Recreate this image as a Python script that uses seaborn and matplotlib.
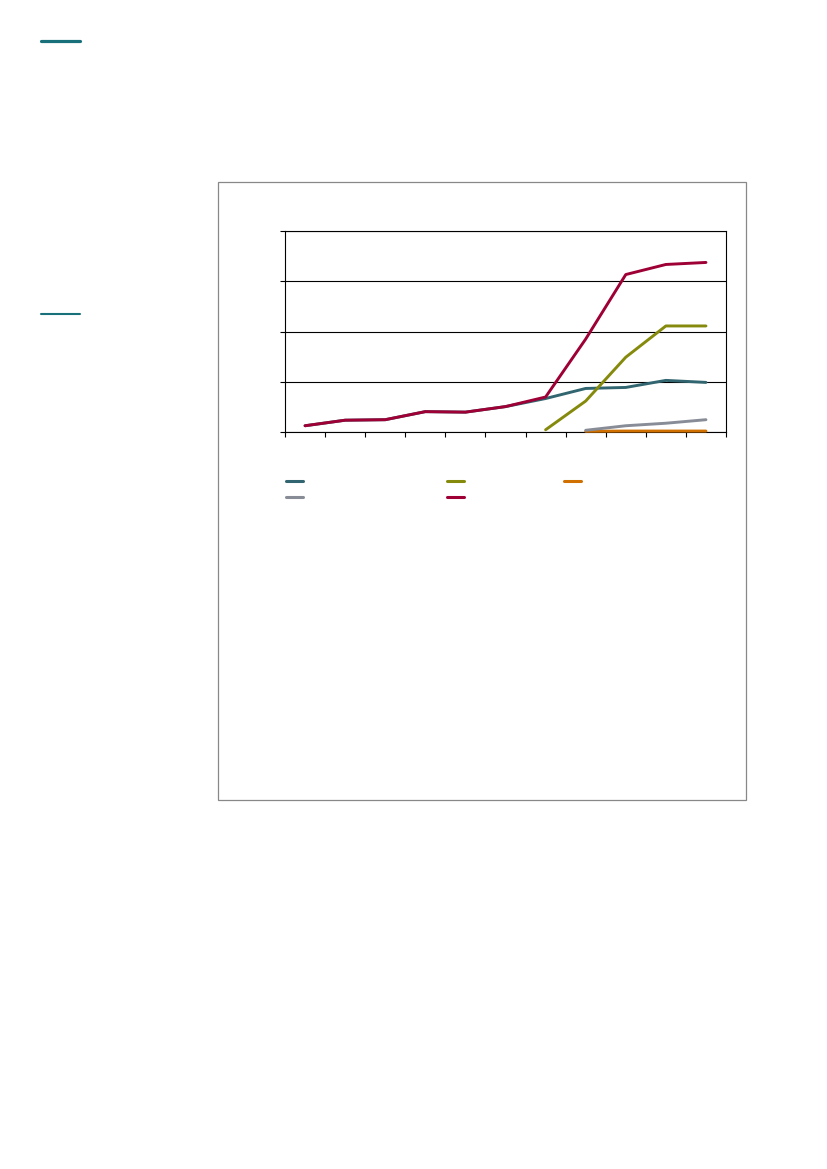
import matplotlib
matplotlib.use("Agg")
import matplotlib.pyplot as plt
import seaborn as sns
import pandas as pd
from matplotlib.lines import Line2D
from matplotlib.patches import Rectangle

# series values per period (11 periods); None = no value for that period
periods = list(range(11))
series_a = [0.13, 0.24, 0.25, 0.41, 0.40, 0.51, 0.67, 0.87, 0.89, 1.03, 0.99]   # teal
series_b = [None, None, None, None, None, None, 0.05, 0.62, 1.49, 2.11, 2.11]   # olive
series_c = [None, None, None, None, None, None, None, 0.02, 0.025, 0.025, 0.025]  # orange
series_d = [None, None, None, None, None, None, None, 0.04, 0.13, 0.18, 0.25]   # grey
series_e = [0.13, 0.24, 0.25, 0.41, 0.40, 0.51, 0.70, 1.85, 3.13, 3.33, 3.37]   # red (total)

names = ["a", "b", "c", "d", "e"]
colors = {"a": "#31656F", "b": "#858A0C", "c": "#D07000", "d": "#878C97", "e": "#9E0036"}

rows = []
for name, vals in zip(names, [series_a, series_b, series_c, series_d, series_e]):
    for p, v in zip(periods, vals):
        if v is not None:
            rows.append({"period": p, "value": v, "series": name})
df = pd.DataFrame(rows)

sns.set_style("white")
W, H = 827, 1169
fig = plt.figure(figsize=(W / 100, H / 100), dpi=100)

# page decorations
fig.add_artist(Rectangle((218 / W, 1 - 800 / H), (746 - 218) / W, (800 - 182) / H,
                         transform=fig.transFigure, fill=False, edgecolor="#888888", lw=0.9))
fig.add_artist(Line2D([41 / W, 80 / W], [1 - 41 / H] * 2, transform=fig.transFigure,
                      color="#17707A", lw=2.3))
fig.add_artist(Line2D([41 / W, 80 / W], [1 - 314 / H] * 2, transform=fig.transFigure,
                      color="#17707A", lw=1.5))

ax = fig.add_axes([285 / W, 1 - 432.3 / H, (726 - 285) / W, (432.3 - 230.7) / H])
sns.lineplot(data=df, x="period", y="value", hue="series", hue_order=names,
             palette=colors, linewidth=2.1, legend=False, ax=ax, zorder=3)
for ln in ax.lines:
    ln.set_clip_on(False)

ax.set_xlim(-0.5, 10.5)
ax.set_ylim(0, 4)
ax.set_xticks([i - 0.5 for i in range(12)])
ax.set_yticks([0, 1, 2, 3, 4])
ax.set_xticklabels([])
ax.set_yticklabels([])
ax.set_xlabel("")
ax.set_ylabel("")
ax.tick_params(axis="both", direction="out", length=3.5, width=0.8, color="black",
               bottom=True, left=True)
ax.yaxis.grid(True, color="black", lw=0.8)
ax.set_axisbelow(True)
for s in ax.spines.values():
    s.set_visible(True)
    s.set_color("black")
    s.set_linewidth(0.8)

# legend: three columns, placed separately
def handle(n):
    return Line2D([], [], color=colors[n], lw=2.2)

cols = [(["a", "d"], 286, 489.5), (["b", "e"], 447, 489.5), (["c"], 564, 481.5)]
for keys, xl, yc in cols:
    leg = fig.legend(handles=[handle(k) for k in keys], labels=[""] * len(keys),
                     loc="center left", bbox_to_anchor=(xl / W, 1 - yc / H),
                     frameon=False, fontsize=8, handlelength=1.55, handletextpad=0,
                     labelspacing=0.55, borderpad=0, borderaxespad=0)

fig.savefig("out.png", dpi=100)
